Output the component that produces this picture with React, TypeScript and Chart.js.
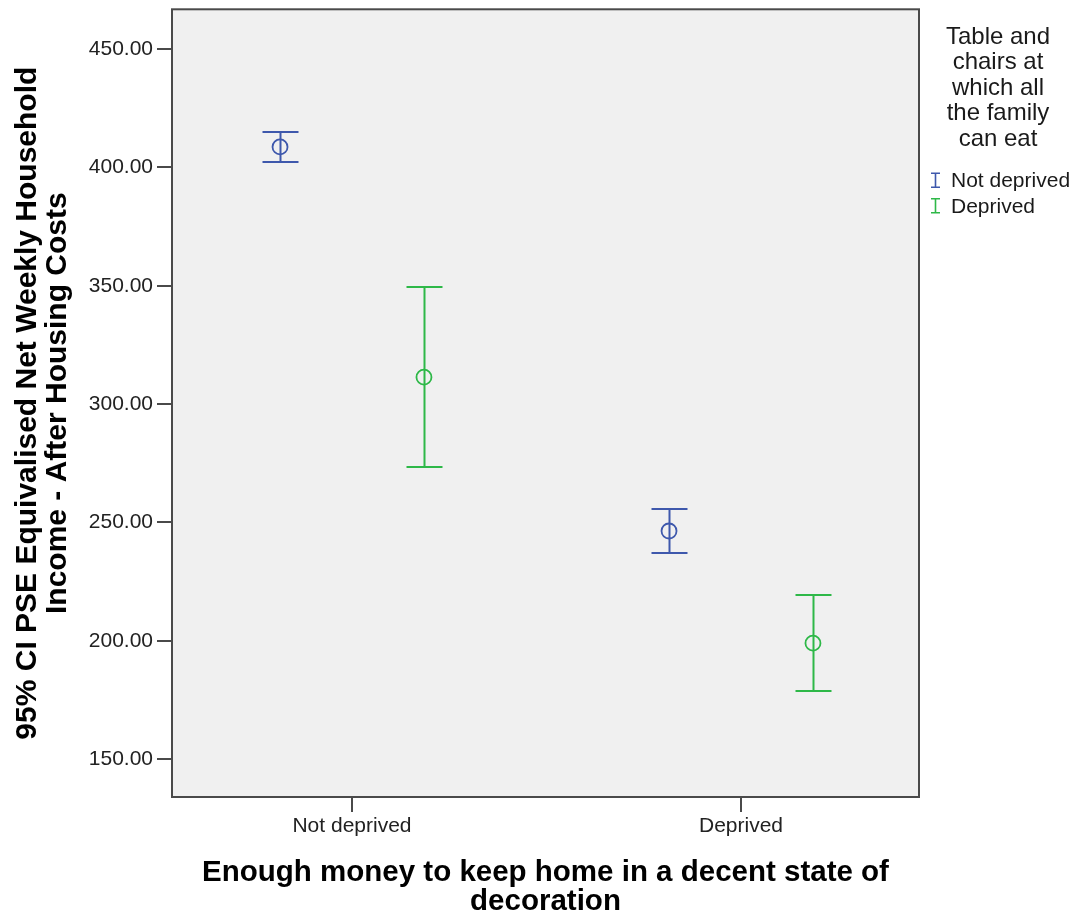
import { useEffect, useRef } from 'react';
import { Chart, registerables } from 'chart.js';

Chart.register(...registerables);

// Categories on the horizontal axis
const categories = ['Not deprived', 'Deprived'];

// Grouping variable (legend)
const legendTitleLines = ['Table and', 'chairs at', 'which all', 'the family', 'can eat'];
const seriesLabels = ['Not deprived', 'Deprived'];
const seriesColors = ['#3e58ac', '#2eb848'];

// Means and 95% confidence limits, one value per category
const meanNotDeprived = [408.7, 246.4];
const lowerNotDeprived = [402.4, 237.1];
const upperNotDeprived = [415.0, 255.6];

const meanDeprived = [311.4, 199.0];
const lowerDeprived = [273.5, 178.8];
const upperDeprived = [349.7, 219.4];

// Axis ticks and titles
const yTickValues = [150, 200, 250, 300, 350, 400, 450];
const yTitleLines = ['95% CI PSE Equivalised Net Weekly Household', 'Income - After Housing Costs'];
const xTitleLines = ['Enough money to keep home in a decent state of', 'decoration'];

const FONT = '"Liberation Sans", Arial, sans-serif';
const GROUP_SHIFT = 0.185;
const CAP_HALF = 18;

const series = [
  { label: seriesLabels[0], color: seriesColors[0], mean: meanNotDeprived, lower: lowerNotDeprived, upper: upperNotDeprived, shift: -GROUP_SHIFT },
  { label: seriesLabels[1], color: seriesColors[1], mean: meanDeprived, lower: lowerDeprived, upper: upperDeprived, shift: GROUP_SHIFT },
];

// Grey plot background and dark frame around the plot area
const plotFrame = {
  id: 'plotFrame',
  beforeDraw(chart: any) {
    const { ctx, chartArea } = chart;
    const { left, top, right, bottom } = chartArea;
    ctx.save();
    ctx.fillStyle = '#f0f0f0';
    ctx.fillRect(left, top, right - left, bottom - top);
    ctx.restore();
  },
  afterDraw(chart: any) {
    const { ctx, chartArea } = chart;
    const { left, top, right, bottom } = chartArea;
    ctx.save();
    ctx.strokeStyle = '#4a4a4a';
    ctx.lineWidth = 2;
    ctx.strokeRect(left, top, right - left, bottom - top);
    ctx.restore();
  },
};

// Vertical confidence-interval whiskers with caps
const errorBars = {
  id: 'errorBars',
  afterDatasetsDraw(chart: any) {
    const { ctx } = chart;
    const xScale = chart.scales.x;
    const yScale = chart.scales.y;
    chart.data.datasets.forEach((ds: any) => {
      ctx.save();
      ctx.strokeStyle = ds.borderColor;
      ctx.lineWidth = 2;
      ds.data.forEach((pt: any, i: number) => {
        const px = Math.round(xScale.getPixelForValue(pt.x)) + 0.5;
        const yTop = Math.round(yScale.getPixelForValue(ds.upper[i]));
        const yBot = Math.round(yScale.getPixelForValue(ds.lower[i]));
        ctx.beginPath();
        ctx.moveTo(px, yTop);
        ctx.lineTo(px, yBot);
        ctx.moveTo(px - CAP_HALF, yTop);
        ctx.lineTo(px + CAP_HALF, yTop);
        ctx.moveTo(px - CAP_HALF, yBot);
        ctx.lineTo(px + CAP_HALF, yBot);
        ctx.stroke();
      });
      ctx.restore();
    });
  },
};

// Legend on the right: centred multi-line title, then an error-bar glyph per series
const sideLegend = {
  id: 'sideLegend',
  afterDraw(chart: any) {
    const { ctx, chartArea, width } = chart;
    const cx = chartArea.right + (width - chartArea.right) / 2;
    ctx.save();
    ctx.fillStyle = '#1a1a1a';
    ctx.textAlign = 'center';
    ctx.textBaseline = 'middle';
    ctx.font = `24px ${FONT}`;
    legendTitleLines.forEach((line, i) => {
      ctx.fillText(line, cx, chartArea.top + 28 + i * 25.5);
    });
    ctx.textAlign = 'left';
    ctx.font = `21px ${FONT}`;
    chart.data.datasets.forEach((ds: any, i: number) => {
      const y = chartArea.top + 171 + i * 25.5;
      const ix = chartArea.right + 16.5;
      ctx.strokeStyle = ds.borderColor;
      ctx.lineWidth = 1.6;
      ctx.beginPath();
      ctx.moveTo(ix, y - 7);
      ctx.lineTo(ix, y + 7);
      ctx.moveTo(ix - 4.5, y - 7);
      ctx.lineTo(ix + 4.5, y - 7);
      ctx.moveTo(ix - 4.5, y + 7);
      ctx.lineTo(ix + 4.5, y + 7);
      ctx.stroke();
      ctx.fillStyle = '#1a1a1a';
      ctx.fillText(ds.label, chartArea.right + 32, y + 1);
    });
    ctx.restore();
  },
};

export default function App() {
  const canvasRef = useRef<HTMLCanvasElement | null>(null);

  useEffect(() => {
    const canvas = canvasRef.current;
    if (!canvas) return;

    const chart = new Chart(canvas, {
      type: 'scatter',
      data: {
        datasets: series.map((s) => ({
          label: s.label,
          data: s.mean.map((m, i) => ({ x: i + 1 + s.shift, y: m })),
          lower: s.lower,
          upper: s.upper,
          borderColor: s.color,
          backgroundColor: 'rgba(0,0,0,0)',
          pointRadius: 7.5,
          pointHoverRadius: 7.5,
          pointBorderWidth: 1.8,
          pointStyle: 'circle',
          showLine: false,
        })) as any,
      },
      options: {
        responsive: false,
        animation: false,
        events: [],
        layout: { padding: { top: 7, right: 158, bottom: 0, left: 0 } },
        plugins: {
          legend: { display: false },
          tooltip: { enabled: false },
        },
        scales: {
          x: {
            type: 'linear',
            position: 'bottom',
            min: 0.5373,
            max: 2.4576,
            afterBuildTicks: (scale: any) => {
              scale.ticks = categories.map((_, i) => ({ value: i + 1 }));
            },
            afterFit: (scale: any) => {
              scale.height = 120;
              scale.paddingLeft = 0;
              scale.paddingRight = 0;
            },
            grid: {
              display: true,
              drawOnChartArea: false,
              drawTicks: true,
              tickLength: 15,
              color: '#4a4a4a',
              lineWidth: 2,
            },
            border: { display: false },
            ticks: {
              autoSkip: false,
              maxRotation: 0,
              padding: 2,
              color: '#222',
              font: { family: FONT, size: 21 },
              callback: (value: any) => categories[Math.round(Number(value)) - 1] ?? '',
            },
            title: {
              display: true,
              text: xTitleLines,
              color: '#000',
              font: { family: FONT, size: 29.5, weight: 'bold', lineHeight: 1.0 },
              padding: { top: 0, bottom: 0 },
            },
          },
          y: {
            type: 'linear',
            position: 'left',
            min: 133.99,
            max: 466.85,
            afterBuildTicks: (scale: any) => {
              scale.ticks = yTickValues.map((v) => ({ value: v }));
            },
            afterFit: (scale: any) => {
              scale.width = 172;
              scale.paddingTop = 0;
              scale.paddingBottom = 0;
            },
            grid: {
              display: true,
              drawOnChartArea: false,
              drawTicks: true,
              tickLength: 15,
              color: '#4a4a4a',
              lineWidth: 2,
            },
            border: { display: false },
            ticks: {
              padding: 4,
              color: '#222',
              font: { family: FONT, size: 21 },
              callback: (value: any) => Number(value).toFixed(2),
            },
            title: {
              display: true,
              text: yTitleLines,
              color: '#000',
              font: { family: FONT, size: 30, weight: 'bold', lineHeight: 1.0 },
              padding: { top: 13, bottom: 0 },
            },
          },
        },
      },
      plugins: [plotFrame, errorBars, sideLegend],
    });

    return () => {
      chart.destroy();
    };
  }, []);

  return (
    <div style={{ position: 'absolute', left: 0, top: 0, width: 1077, height: 917, background: '#fff' }}>
      <canvas ref={canvasRef} width={1077} height={917} />
    </div>
  );
}
